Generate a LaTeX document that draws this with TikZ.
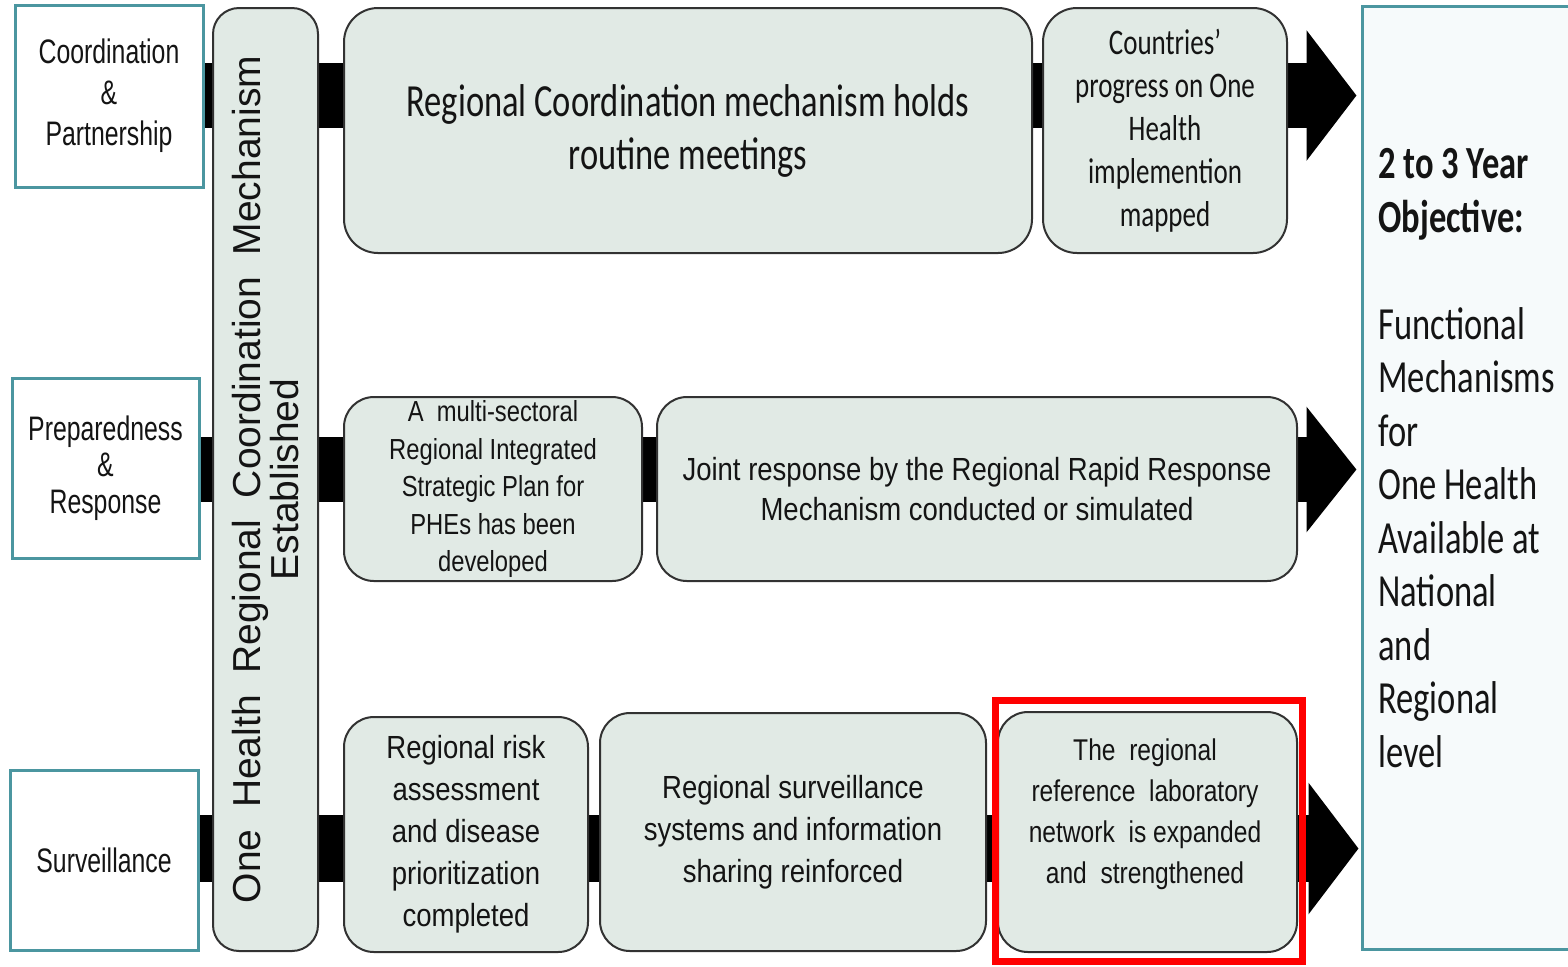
\documentclass[tikz,border=0pt]{standalone}
\usepackage{fontspec}
\setmainfont{Liberation Sans}
\newfontfamily\calA{Carlito}[FakeStretch=0.75]
\newfontfamily\arA{Liberation Sans}[FakeStretch=0.86]
\newfontfamily\arB{Liberation Sans}[FakeStretch=0.82]
\newfontfamily\arC{Liberation Sans}[FakeStretch=0.73]
\newfontfamily\arV{Liberation Sans}
\usetikzlibrary{arrows.meta,backgrounds}
\definecolor{tealb}{RGB}{75,150,160}
\definecolor{boxfill}{RGB}{225,234,229}
\definecolor{objfill}{RGB}{246,250,251}
\definecolor{boxline}{RGB}{50,50,50}
\definecolor{txt}{RGB}{20,20,20}
\tikzset{
  lbox/.style={draw=tealb, line width=1.5pt, fill=white, rectangle, inner sep=0pt, align=center, text=txt},
  rbox/.style={draw=boxline, line width=1pt, fill=boxfill, rounded corners=15pt, inner sep=0pt, align=center, text=txt},
  bar/.style={line width=#1, draw=black},
  bar/.default=32.5pt,
}
\begin{document}
\begin{tikzpicture}[x=0.5pt,y=-0.5pt]
\useasboundingbox (0,0) rectangle (1568,966);

% left category boxes
\node[lbox, minimum width=94pt, minimum height=91pt,
  font={\arC\fontsize{17}{20.5}\selectfont}] (cp) at (109,96) {\raisebox{0pt}{}Coordination\\\&\\Partnership};
\node[lbox, minimum width=93.5pt, minimum height=90pt,
  font={\arC\fontsize{17}{18.25}\selectfont}] (pr) at (105.5,468) {Preparedness\\\&\\Response};
\node[lbox, minimum width=94pt, minimum height=90pt,
  font={\arC\fontsize{17}{20}\selectfont}] (sv) at (104,860) {Surveillance};

% vertical mechanism box
\node[rbox, rounded corners=13pt, minimum width=52.5pt, minimum height=471.5pt] (vb) at (265.5,479.5) {};
\node[rotate=90, align=center, text=txt, inner sep=0pt,
  font={\arV\fontsize{19.5}{18}\selectfont}] (vbt) at (vb.center)
  {One\ \ Health\ \ Regional\ \ Coordination\ \ Mechanism\\Established};

% row 1
\node[rbox, rounded corners=17pt, minimum width=344pt, minimum height=122.5pt,
  font={\calA\fontsize{23}{26.5}\selectfont}] (r1a) at (688,130.5)
  {Regional Coordination mechanism holds\\routine meetings};
\node[rbox, rounded corners=17pt, minimum width=122pt, minimum height=122.5pt,
  font={\calA\fontsize{18}{21.5}\selectfont}] (r1b) at (1165,130.5)
  {Countries’\\progress on One\\Health\\implemention\\mapped};

% row 2
\node[rbox, minimum width=149pt, minimum height=92pt,
  font={\arB\fontsize{14.5}{18.75}\selectfont}] (r2a) at (493,489)
  {A\ \ multi-sectoral\\Regional Integrated\\Strategic Plan for\\PHEs has been\\developed};
\node[rbox, minimum width=320pt, minimum height=92pt,
  font={\arA\fontsize{16}{20}\selectfont}] (r2b) at (977,489)
  {Joint response by the Regional Rapid Response\\Mechanism conducted or simulated};

% row 3
\node[rbox, minimum width=122pt, minimum height=117.5pt,
  font={\arA\fontsize{16}{21}\selectfont}] (r3a) at (466,834.5)
  {Regional risk\\assessment\\and disease\\prioritization\\completed};
\node[rbox, minimum width=193pt, minimum height=119pt,
  font={\arA\fontsize{16}{21}\selectfont}] (r3b) at (793,832)
  {Regional surveillance\\systems and information\\sharing reinforced};
\node[rbox, minimum width=149.5pt, minimum height=120pt] (r3c) at (1147.5,832) {};
\node[align=center, text=txt, inner sep=0pt,
  font={\arB\fontsize{15}{20.5}\selectfont}] (r3ct) at (1145,814)
  {The\ \ regional\\reference\ \ laboratory\\network\ \ is expanded\\and\ \ strengthened};

% objective box
\node[draw=tealb, line width=1.5pt, fill=objfill, inner sep=0pt,
  minimum width=109pt, minimum height=471.5pt] (obj) at (1471,477.5) {};
\node[anchor=north west, align=left, text=txt, inner sep=0pt,
  font={\calA\fontsize{23}{26.75}\selectfont}] (objt) at (1378,148)
  {\textbf{2 to 3 Year}\\\textbf{Objective:}\\[26.75pt]Functional\\Mechanisms\\for\\One Health\\Available at\\National\\and\\Regional\\level};

% highlight
\node[draw=red, line width=3.5pt, minimum width=153.5pt, minimum height=130.5pt, inner sep=0pt] (hl) at (1148.5,830.5) {};

% connector bars
\coordinate (y1) at (0,95.5);
\coordinate (y2) at (0,469.5);
\coordinate (y3) at (0,848.5);
\begin{scope}[on background layer]
\draw[bar, -{Triangle[length=25pt,width=64pt]}, shorten >=2pt] (cp.east |- y1) -- (obj.west |- y1);
\draw[bar, -{Triangle[length=25pt,width=61.5pt]}, shorten >=2pt] (pr.east |- y2) -- (obj.west |- y2);
\draw[bar=33.5pt, -{Triangle[length=25pt,width=64.5pt]}, shorten >=1pt] (sv.east |- y3) -- (obj.west |- y3);
\end{scope}
\end{tikzpicture}
\end{document}
